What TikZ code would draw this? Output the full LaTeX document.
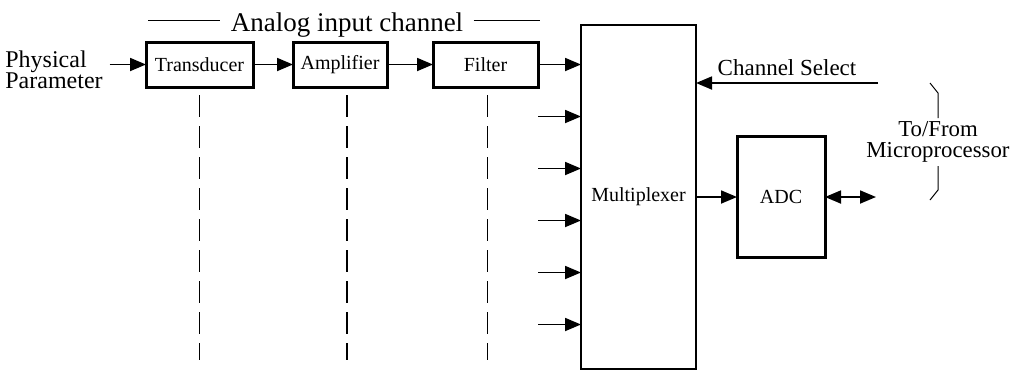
\documentclass[tikz,border=0pt]{standalone}
\usepackage{fontspec}
\setmainfont{Liberation Serif}
\usetikzlibrary{arrows.meta, positioning}

\begin{document}
\begin{tikzpicture}[
    x=0.5pt, y=-0.5pt,
    block/.style={draw, line width=1.5pt, outer sep=0pt, inner sep=0pt, minimum height=22.5pt, font=\fontsize{10}{12}\selectfont},
    sig/.style={-{Triangle[length=8pt, width=6.5pt]}, line width=0.9pt},
    bisig/.style={{Triangle[length=8pt, width=6.5pt]}-{Triangle[length=8pt, width=6.5pt]}, line width=0.9pt},
    guide/.style={line width=0.6pt, dash pattern=on 11pt off 4.5pt},
    note/.style={font=\fontsize{12}{10.5}\selectfont}
]
\useasboundingbox (0,0) rectangle (1013,371);

% input channel
\node[block, minimum width=53.5pt] (trans) at (199.5,64.5) {Transducer};
\node[block, minimum width=47pt, right=20pt of trans] (amp) {Amplifier};
\node[block, minimum width=52.5pt, right=23pt of amp] (filt) {Filter};
\node[note, align=left] (phys) at (54,70) {Physical\\Parameter};

\node[font=\fontsize{13.5}{16}\selectfont, anchor=base, inner xsep=5pt] (title) at (347,31) {Analog input channel};
\coordinate (tl) at (148,20);
\coordinate (tr) at (540,20);
\draw[line width=0.5pt] (tl) -- (tl -| title.west);
\draw[line width=0.5pt] (tr -| title.east) -- (tr);

% mux and converter
\node[block, line width=1.3pt, minimum width=57.5pt, minimum height=172pt] (mux) at (638.5,197) {Multiplexer};
\node[block, minimum width=44pt, minimum height=60.5pt, right=20.5pt of mux] (adc) {ADC};
\node[font=\fontsize{11.4}{10.5}\selectfont, align=center] (micro) at (938,142) {To/From\\Microprocessor};

\draw[sig] (phys.east |- trans.west) -- (trans.west);
\draw[sig] (trans) -- (amp);
\draw[sig] (amp) -- (filt);
\draw[sig] (filt.east) -- (filt.east -| mux.west);
\foreach \k in {1,...,5} {
  \path (filt.east) ++(0,52*\k) coordinate (in\k);
  \draw[sig] (in\k) -- (in\k -| mux.west);
}

\coordinate (sel) at (878,83);
\draw[sig] (sel) -- node[above, font=\fontsize{11.5}{13}\selectfont] {Channel Select} (sel -| mux.east);
\draw[sig] (mux) -- (adc);
\coordinate (mp) at (876,197);
\draw[bisig] (adc.east) -- (mp);

% brace
\draw[line width=0.5pt] (930,83) -- (938,93) -- (938,118);
\draw[line width=0.5pt] (938,166) -- (938,190) -- (930,200);

% other channels
\foreach \b/\dx in {trans/0, amp/7, filt/2}
  \draw[guide] ([xshift=\dx*0.5pt, yshift=-4pt]\b.south) -- ++(0,265);
\end{tikzpicture}
\end{document}
